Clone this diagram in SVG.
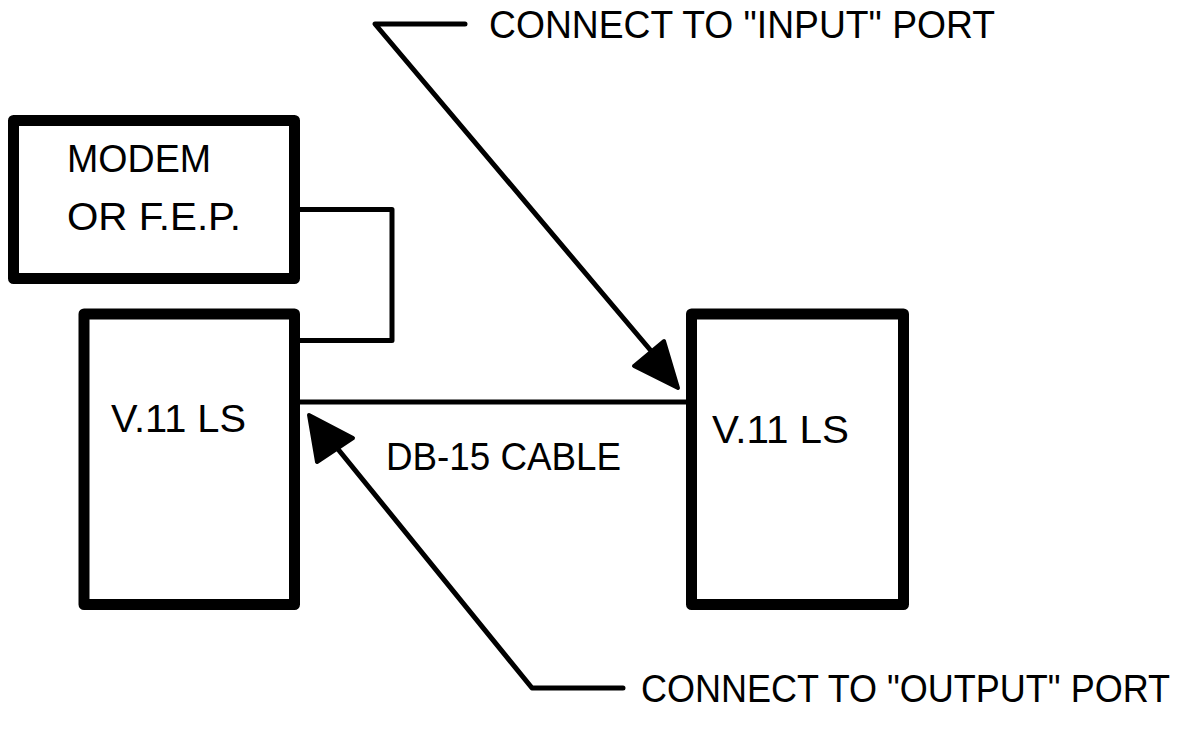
<svg xmlns="http://www.w3.org/2000/svg" width="1203" height="740" viewBox="0 0 1203 740">
<style>
.box{fill:#fff;stroke:#000;stroke-width:11;stroke-linejoin:round}
.ln{fill:none;stroke:#000;stroke-width:5;stroke-linejoin:round;stroke-linecap:round}
.ah{fill:#000;stroke:#000;stroke-width:4;stroke-linejoin:round}
text{font-family:"Liberation Sans",Arial,sans-serif;font-size:37px;fill:#000}
</style>
<rect width="1203" height="740" fill="#fff"/>
<g id="connectors">
<path class="ln" d="M297,209.5 H392 V340.5 H297"/>
<path class="ln" d="M297,402 H688"/>
<path class="ln" d="M465,24 H375 L652,352"/>
<polygon class="ah" points="678,388 634,366 664,341"/>
<path class="ln" d="M623,688 H532 L333,443"/>
<polygon class="ah" points="309,415 353,438 317,462"/>
</g>
<g id="modem">
<rect class="box" x="13.5" y="120.5" width="281" height="158"/>
<text transform="translate(67,172) scale(1,1.07)" textLength="144" lengthAdjust="spacingAndGlyphs">MODEM</text>
<text transform="translate(67,230) scale(1,1.07)" textLength="174" lengthAdjust="spacingAndGlyphs">OR F.E.P.</text>
</g>
<g id="v11-left">
<rect class="box" x="84" y="314" width="210.5" height="290.5"/>
<text transform="translate(111,432) scale(1,1.07)" textLength="135" lengthAdjust="spacingAndGlyphs">V.11 LS</text>
</g>
<g id="v11-right">
<rect class="box" x="691.5" y="314" width="212" height="290.5"/>
<text transform="translate(712,443) scale(1,1.07)" textLength="137" lengthAdjust="spacingAndGlyphs">V.11 LS</text>
</g>
<g id="labels">
<text transform="translate(386,470) scale(1,1.07)" textLength="235" lengthAdjust="spacingAndGlyphs">DB-15 CABLE</text>
<text transform="translate(489,38) scale(1,1.07)" textLength="506" lengthAdjust="spacingAndGlyphs">CONNECT TO "INPUT" PORT</text>
<text transform="translate(641,702) scale(1,1.07)" textLength="529" lengthAdjust="spacingAndGlyphs">CONNECT TO "OUTPUT" PORT</text>
</g>
</svg>
